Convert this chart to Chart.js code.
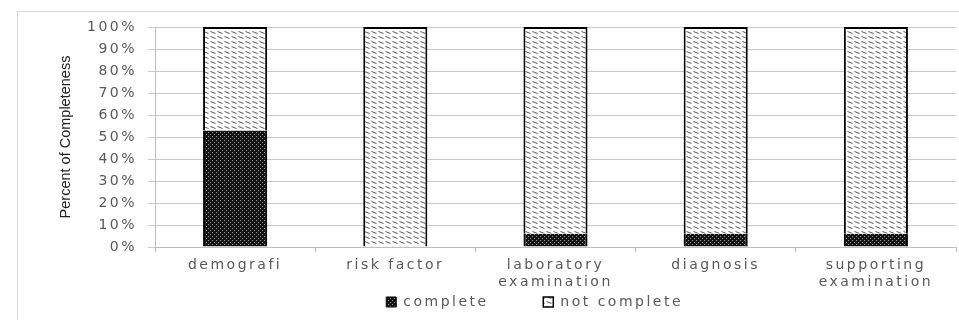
<!DOCTYPE html>
<html>
<head>
<meta charset="utf-8">
<script src="https://cdn.jsdelivr.net/npm/chart.js@4"></script>
<style>
  html, body { margin: 0; padding: 0; background: #fff; }
</style>
</head>
<body>
<canvas id="chart" width="959" height="320"></canvas>
<script>
// data
const categories = ['demografi', 'risk factor', ['laboratory', 'examination'], 'diagnosis', ['supporting', 'examination']];
const complete = [53, 0, 6, 6, 6];
const notComplete = [47, 100, 94, 94, 94];
const yMax = 100;
const yStep = 10;
const legendNames = ['complete', 'not complete'];

// dark dotted fill
function dotPattern() {
    const c = document.createElement('canvas');
    c.width = 4; c.height = 4;
    const g = c.getContext('2d');
    g.fillStyle = '#141414';
    g.fillRect(0, 0, 4, 4);
    g.fillStyle = '#9a9a9a';
    g.fillRect(0, 0, 1, 1);
    g.fillRect(2, 2, 1, 1);
    return g.createPattern(c, 'repeat');
}

// white fill with short slanted dashes
function dashPattern() {
    const c = document.createElement('canvas');
    c.width = 7; c.height = 5;
    const g = c.getContext('2d');
    g.fillStyle = '#ffffff';
    g.fillRect(0, 0, 7, 5);
    g.strokeStyle = '#555';
    g.lineWidth = 1;
    g.beginPath();
    g.moveTo(0.5, 1.5);
    g.lineTo(5.5, 3.5);
    g.stroke();
    return g.createPattern(c, 'repeat');
}

const tickFont = { family: '"DejaVu Sans", Verdana, sans-serif', size: 14 };
const pad = n => '\u00a0'.repeat(n);

// wide lettering like the stretched original, frame around the chart
const looks = {
    id: 'looks',
    beforeUpdate(chart) { chart.ctx.letterSpacing = '2.5px'; },
    afterLayout(chart) {
        const s = chart.scales.y;
        if (!s._plainTitle) {
            const orig = s.drawTitle.bind(s);
            s.drawTitle = function () {
                const ctx = this.ctx;
                const old = ctx.letterSpacing;
                ctx.letterSpacing = '0px';
                orig();
                ctx.letterSpacing = old;
            };
            s._plainTitle = true;
        }
    },
    beforeDraw(chart) {
        const ctx = chart.ctx;
        ctx.letterSpacing = '2.5px';
        ctx.save();
        ctx.strokeStyle = '#d9d9d9';
        ctx.lineWidth = 1;
        ctx.strokeRect(17.5, 11.5, 1000, 400);
        ctx.restore();
    }
};

new Chart(document.getElementById('chart'), {
    type: 'bar',
    data: {
        labels: categories,
        datasets: [{
            label: legendNames[0] + pad(7),
            data: complete,
            backgroundColor: dotPattern(),
            borderColor: '#000',
            borderWidth: { left: 2, right: 2, top: 0, bottom: 0 },
            borderSkipped: false,
            barPercentage: 0.4,
            categoryPercentage: 1
        }, {
            label: legendNames[1] + pad(6),
            data: notComplete,
            backgroundColor: dashPattern(),
            borderColor: '#000',
            borderWidth: { left: 2, right: 2, top: 2, bottom: 0 },
            borderSkipped: false,
            barPercentage: 0.4,
            categoryPercentage: 1
        }]
    },
    options: {
        responsive: false,
        animation: false,
        layout: { padding: { left: 57, top: 27, right: 3, bottom: 1 } },
        plugins: {
            tooltip: { enabled: false },
            legend: {
                position: 'bottom',
                fullSize: false,
                labels: {
                    boxWidth: 10,
                    boxHeight: 10,
                    padding: 6,
                    color: '#595959',
                    font: tickFont
                }
            }
        },
        scales: {
            x: {
                stacked: true,
                afterFit(scale) { scale.height = 42; },
                grid: { drawOnChartArea: false, drawTicks: true, tickLength: 5, color: '#bfbfbf' },
                border: { color: '#bfbfbf' },
                ticks: { color: '#595959', font: tickFont, padding: 5, maxRotation: 0 }
            },
            y: {
                stacked: true,
                min: 0,
                max: yMax,
                afterFit(scale) { scale.width = 98; },
                grid: { color: '#c8c8c8', tickLength: 7 },
                border: { color: '#bfbfbf' },
                ticks: {
                    stepSize: yStep,
                    color: '#595959',
                    font: tickFont,
                    padding: 11,
                    callback: v => v + '%'
                },
                title: {
                    display: true,
                    text: 'Percent of Completeness',
                    color: '#222',
                    padding: 0,
                    font: { family: '"Liberation Sans", Arial, sans-serif', size: 14.5 }
                }
            }
        }
    },
    plugins: [looks]
});
</script>
</body>
</html>
